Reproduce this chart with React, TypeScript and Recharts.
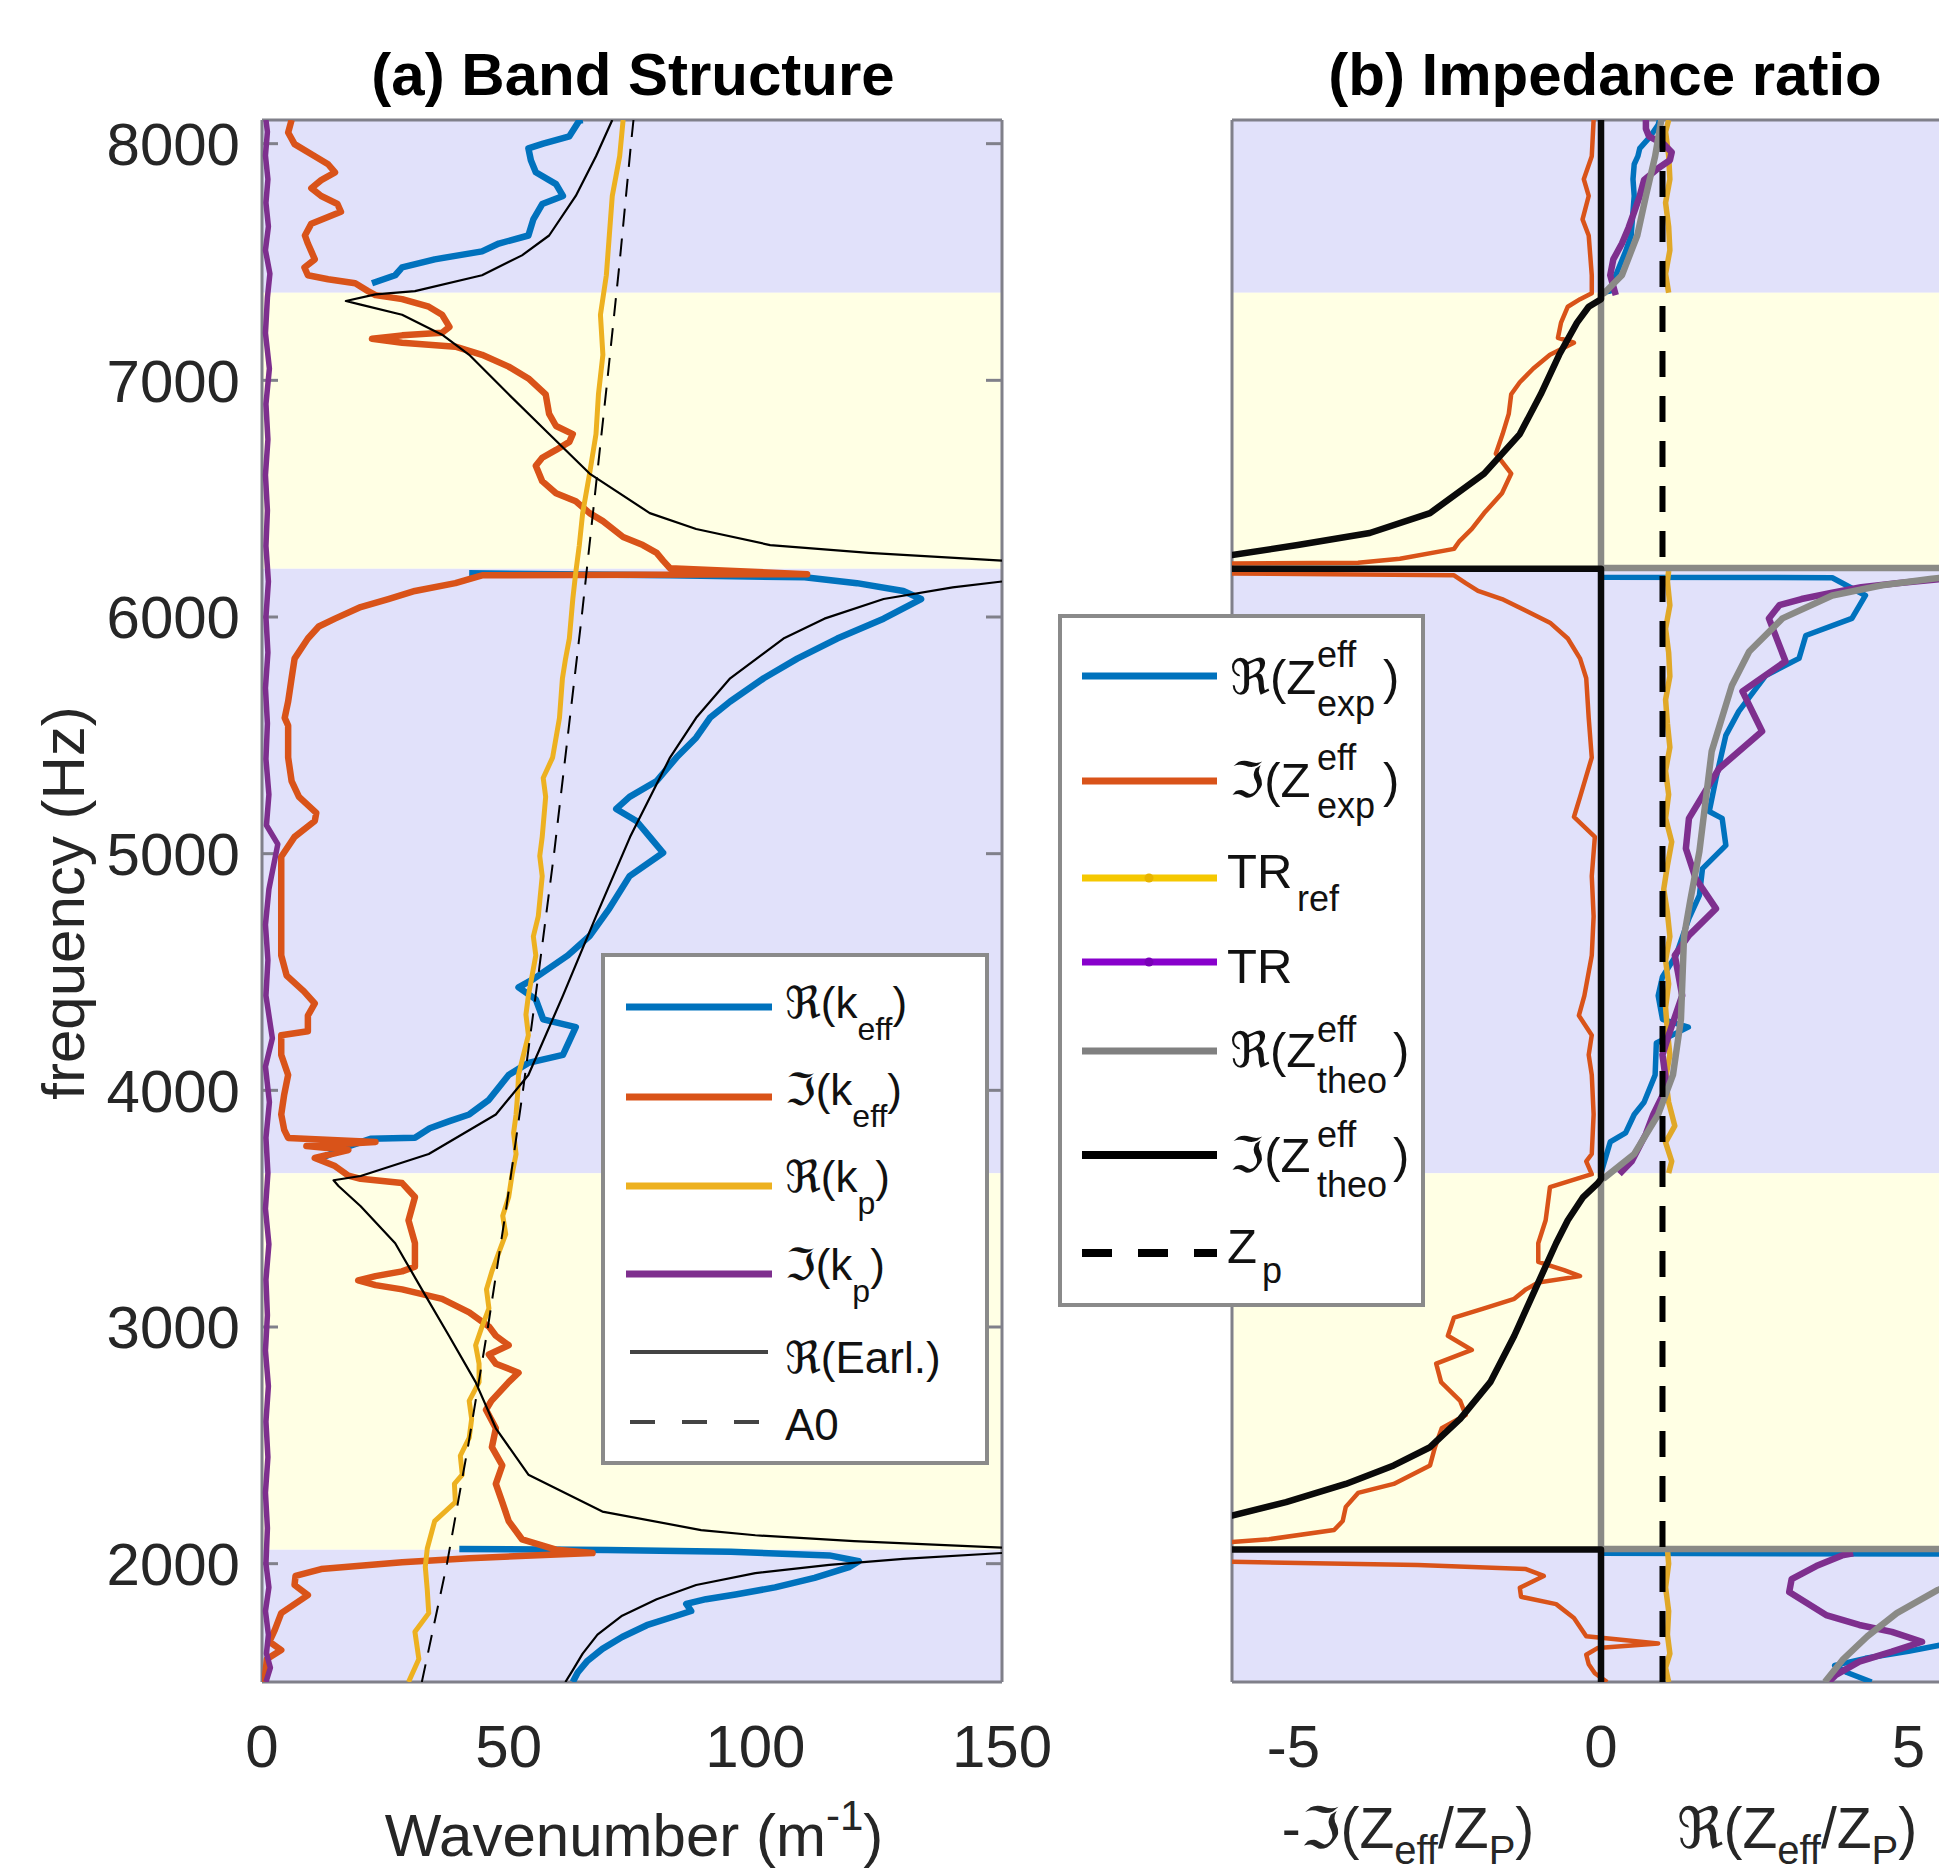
import React from "react";
import { ScatterChart, Scatter, XAxis, YAxis, ReferenceArea } from "recharts";

type P = [number, number]; // [value, frequency Hz]

const FONT = "'Liberation Sans', Arial, 'DejaVu Sans', sans-serif";
const BOX = "#80808a";
const LAVENDER = "#E1E1FA";
const CREAM = "#FFFFE4";

// axes
const freqTicks = [2000, 3000, 4000, 5000, 6000, 7000, 8000];
const kTicks = [0, 50, 100, 150];
const kInnerTicks = [50, 100];
const zTicks = [-5, 0, 5];

// frequency bands (Hz)
const passBands: P[] = [[1500, 2060], [3650, 6205], [7370, 8100]];
const stopBands: P[] = [[2060, 3650], [6205, 7370]];

// ---------- (a) Band Structure ----------
const reKeffLow: P[] = [[63,1500],[64,1540],[66,1590],[69,1640],[73,1690],[78,1740],[84,1780],[87,1800],[86,1830],[90,1850],[96,1870],[104,1900],[112,1940],[119,1985],[121,2010],[115,2035],[95,2050],[70,2058],[40,2062]];
const reKeffMid: P[] = [[12,3714],[15,3740],[17,3760],[22,3795],[31,3800],[34,3840],[38,3870],[42,3898],[46,3960],[50,4065],[54,4116],[61,4150],[63.6,4267],[57,4300],[55.5,4384],[52,4435],[55,4470],[62,4570],[66.4,4652],[70.4,4768],[74.5,4905],[81.3,5004],[78.6,5071],[75.9,5138],[71.8,5189],[74.5,5240],[80,5307],[84,5406],[88,5490],[90.8,5574],[94.9,5643],[101.7,5741],[108.5,5824],[116.6,5909],[126,5993],[133.6,6076],[130,6110],[120.6,6143],[110,6168],[82.6,6176],[42,6185]];
const reKeffHigh: P[] = [[22.3,7410],[27,7444],[28.4,7477],[35,7511],[44.6,7545],[48,7578],[54,7612],[55,7680],[56.8,7745],[61,7779],[59.6,7829],[55.5,7879],[54.5,7930],[54,7980],[57,8000],[62.3,8031],[64.3,8097],[65,8100]];

const imKeff: P[] = [[0.5,1500],[1,1597],[3.9,1635],[1.5,1670],[2.6,1720],[3.9,1791],[6.6,1829],[9.3,1867],[6.6,1910],[6.8,1948],[12,1977],[28.4,2006],[42,2023],[67,2045],[59.6,2059],[52.7,2103],[50,2180],[48.7,2260],[47.4,2337],[48.7,2415],[46.6,2492],[47.4,2572],[45.4,2650],[46.5,2688],[50,2767],[52,2807],[47.4,2845],[46,2884],[50,2923],[47.4,2963],[46,3002],[42,3062],[36.5,3119],[28.4,3159],[23,3177],[19.5,3197],[23,3215],[28.4,3235],[31,3255],[31,3354],[29.7,3451],[31,3549],[28.4,3608],[20,3626],[17.5,3640],[14.8,3680],[10.7,3714],[17.5,3748],[9,3765],[23,3782],[5.3,3799],[4.5,3833],[3.9,3898],[4.5,3982],[5.3,4065],[3.9,4150],[3.9,4233],[9.3,4250],[9.3,4316],[10.7,4367],[8.5,4418],[5,4485],[3.9,4570],[3.9,4735],[3.9,4905],[3.9,4987],[6.6,5071],[10.7,5138],[11,5172],[7.5,5240],[6,5307],[5.3,5406],[5.3,5541],[4.6,5574],[5.3,5643],[6,5741],[6.6,5824],[9.3,5909],[11.5,5960],[14.8,5993],[20,6042],[25.6,6076],[31,6110],[39.2,6143],[44.6,6176],[110.5,6181],[82.7,6206],[81.3,6238],[80,6271],[77.2,6304],[73.2,6338],[69.1,6405],[66.4,6439],[63.6,6489],[59.6,6523],[56.8,6574],[55.5,6639],[56.8,6673],[59.6,6706],[62.3,6740],[63,6773],[59.6,6807],[58.2,6858],[57.5,6941],[54,7008],[50,7058],[44.6,7108],[39.2,7142],[28.4,7159],[22.3,7176],[28.4,7190],[36.5,7201],[38,7226],[36.5,7277],[33.8,7311],[28.4,7343],[23,7360],[21.5,7377],[18.9,7410],[13.4,7427],[9.3,7444],[8.6,7477],[10.7,7511],[10,7545],[9.3,7578],[8.7,7612],[10,7662],[16,7712],[15.3,7745],[12,7779],[10,7812],[12,7846],[14.8,7879],[13.4,7913],[10.7,7947],[6.6,7998],[5.3,8047],[6,8100]];

const reKp: P[] = [[29.7,1500],[31.8,1597],[31,1712],[33.8,1791],[33.5,1889],[33.1,1987],[33.5,2064],[35,2180],[39.2,2260],[39,2337],[40.6,2376],[40.2,2456],[42,2532],[42.5,2612],[42,2688],[44,2767],[44,2845],[43.3,2923],[44.6,3002],[46,3079],[45.5,3159],[46.6,3235],[48,3314],[49.4,3392],[48.8,3470],[50,3549],[50.7,3646],[51.5,3731],[51,3820],[51.5,3898],[51.8,3980],[52,4065],[53,4150],[54,4233],[53.5,4320],[54,4400],[55.5,4570],[55,4650],[56,4735],[56.8,4905],[56.3,4990],[56.8,5071],[57.5,5240],[57,5320],[58.9,5406],[60.3,5574],[60.9,5741],[61.5,5820],[62.3,5909],[63,6076],[63.6,6188],[64.3,6300],[65,6439],[66.4,6606],[67.7,6773],[68.2,6941],[69.1,7108],[68.6,7277],[69.8,7444],[70.4,7612],[71,7779],[72.5,7947],[73.2,8100]];

const imKp: P[] = [[0.8,1500],[1.7,1560],[0.9,1620],[1.3,1700],[0.7,1800],[1.4,1900],[0.8,2000],[1.1,2150],[0.7,2300],[1.2,2450],[0.8,2600],[1.3,2750],[0.7,2900],[1.1,3050],[0.8,3200],[1.4,3350],[0.7,3500],[1.2,3650],[0.8,3800],[1.5,3950],[0.7,4100],[2.1,4220],[0.8,4400],[1.2,4550],[0.7,4700],[1.4,4850],[3.2,5040],[0.9,5120],[1.4,5250],[0.8,5400],[1.1,5550],[0.7,5700],[1.2,5850],[0.8,6000],[1.3,6150],[0.8,6300],[1.1,6450],[0.7,6600],[1.2,6750],[0.8,6900],[1.5,7050],[0.7,7200],[1.1,7350],[1.6,7450],[0.7,7550],[1.3,7650],[0.8,7750],[1.2,7850],[0.7,7950],[1.1,8050],[0.8,8100]];

const earlLow: P[] = [[61.5,1500],[63,1550],[65,1620],[68,1700],[73,1780],[80,1850],[88,1910],[100,1960],[115,1995],[130,2020],[150,2045]];
const earlMid: P[] = [[150,2068],[120,2095],[100,2120],[89,2142],[69,2220],[54,2376],[47.4,2572],[43.3,2767],[37.9,2963],[32.4,3159],[27,3354],[20,3510],[15.5,3596],[14.5,3620],[20,3638],[33.8,3731],[47.4,3898],[54,4065],[61,4400],[67.7,4735],[74.6,5070],[82.7,5406],[88,5574],[94.9,5741],[105.7,5909],[114,5993],[126,6076],[140,6125],[150,6150]];
const earlHigh: P[] = [[150,6238],[123,6271],[103,6304],[88,6372],[78.6,6439],[66.4,6606],[58.2,6773],[50,6941],[42,7108],[36.5,7193],[28.4,7277],[20,7320],[17,7335],[23,7363],[31,7377],[44.6,7444],[52.7,7528],[58.2,7612],[63.6,7779],[67.7,7947],[71,8100]];

const a0: P[] = [[32.4,1500],[37.5,2000],[41.8,2500],[45.8,3000],[49.5,3500],[52.9,4000],[56.1,4500],[59.2,5000],[62,5500],[64.8,6000],[67.4,6500],[70,7000],[72.5,7500],[74.8,8000],[75.3,8100]];

// ---------- (b) Impedance ratio ----------
const reZexp: P[] = [[4.4,1500],[4.0,1540],[3.8,1570],[4.3,1600],[5.0,1630],[5.6,1660],[6.2,1700],[6.6,1760],[6.6,2040],[0,2044],[0,3650],[0.15,3782],[0.4,3820],[0.54,3898],[0.7,3950],[0.88,4065],[0.9,4200],[1.42,4267],[1.0,4300],[0.93,4400],[1.0,4480],[1.22,4570],[1.43,4727],[1.6,4824],[1.65,4937],[2.03,5035],[1.97,5149],[1.76,5178],[1.87,5318],[2.03,5500],[2.24,5601],[2.68,5753],[3.22,5825],[3.33,5922],[4.08,5994],[4.3,6091],[3.76,6166],[0,6168],[0,7370],[0.15,7377],[0.24,7444],[0.4,7545],[0.49,7612],[0.54,7779],[0.52,7850],[0.54,7913],[0.6,7947],[0.63,7980],[0.8,8030],[0.93,8080],[0.95,8100]];

const imZexp: P[] = [[0.1,1500],[-0.1,1537],[-0.2,1575],[-0.24,1615],[-0.05,1644],[0.93,1663],[-0.24,1693],[-0.44,1770],[-0.73,1829],[-1.3,1860],[-1.32,1898],[-0.93,1948],[-1.22,1977],[-2.98,1994],[-6.5,2010],[-6.5,2082],[-5.4,2103],[-4.34,2142],[-4.2,2180],[-4.15,2240],[-3.95,2299],[-3.37,2337],[-2.78,2415],[-2.7,2492],[-2.59,2572],[-2.2,2628],[-2.29,2688],[-2.6,2767],[-2.68,2845],[-2.1,2903],[-2.49,2963],[-2.39,3040],[-1.9,3079],[-1.41,3119],[-1.22,3159],[-1.02,3188],[-0.34,3215],[-0.6,3240],[-1.02,3275],[-1.02,3354],[-0.9,3451],[-0.85,3550],[-0.83,3591],[-0.15,3646],[-0.24,3700],[-0.15,3731],[-0.12,3898],[-0.15,4065],[-0.2,4150],[-0.15,4233],[-0.36,4316],[-0.27,4400],[-0.15,4570],[-0.12,4735],[-0.15,4905],[-0.1,5071],[-0.44,5155],[-0.34,5240],[-0.15,5406],[-0.2,5574],[-0.24,5741],[-0.34,5824],[-0.54,5909],[-0.83,5976],[-1.22,6026],[-1.61,6076],[-2.0,6110],[-2.2,6143],[-2.39,6176],[-6.5,6185],[-6.5,6225],[-3.95,6229],[-3.27,6246],[-2.39,6288],[-2.3,6321],[-2.1,6372],[-1.9,6439],[-1.61,6523],[-1.46,6606],[-1.71,6690],[-1.6,6773],[-1.5,6858],[-1.46,6941],[-1.32,6992],[-1.1,7050],[-0.83,7108],[-0.44,7159],[-0.7,7180],[-0.65,7244],[-0.54,7311],[-0.34,7343],[-0.15,7368],[-0.15,7444],[-0.2,7612],[-0.3,7680],[-0.2,7779],[-0.28,7850],[-0.15,7947],[-0.12,8100]];

const trRefLow: P[] = [[1.1,1500],[1.05,1560],[1.12,1620],[1.08,1700],[1.1,1800],[1.05,1900],[1.1,2000],[1.08,2062]];
const trRefMid: P[] = [[1.1,3650],[1.15,3700],[1.05,3780],[1.2,3850],[1.1,3950],[1.05,4050],[1.12,4150],[1.08,4250],[1.05,4350],[1.1,4450],[1.05,4550],[1.12,4650],[1.08,4750],[1.02,4850],[1.08,4950],[1.15,5050],[1.05,5150],[1.1,5250],[1.05,5350],[1.12,5450],[1.08,5550],[1.05,5650],[1.12,5750],[1.1,5850],[1.05,5950],[1.12,6050],[1.08,6150],[1.1,6195]];
const trRefHigh: P[] = [[1.1,7370],[1.05,7450],[1.12,7550],[1.1,7650],[1.05,7750],[1.12,7850],[1.1,7950],[1.05,8050],[1.1,8100]];

const trLow: P[] = [[3.7,1500],[3.82,1530],[4.2,1586],[4.73,1628],[5.22,1670],[4.73,1712],[4.2,1741],[3.66,1783],[3.06,1880],[3.1,1935],[3.5,1990],[3.92,2035],[4.1,2044]];
const trMid: P[] = [[0.3,3646],[0.5,3700],[0.73,3816],[0.85,3898],[1.07,4014],[1.0,4150],[1.1,4233],[1.32,4400],[1.25,4500],[1.2,4570],[1.43,4655],[1.87,4768],[1.54,4895],[1.38,5022],[1.43,5149],[1.92,5360],[2.62,5517],[2.3,5686],[3.0,5813],[2.9,5880],[2.73,5994],[2.9,6050],[3.26,6076],[3.74,6102],[4.23,6126],[4.81,6143],[5.5,6160],[6.5,6170]];
const trHigh: P[] = [[0.24,7360],[0.15,7444],[0.2,7511],[0.34,7578],[0.45,7646],[0.54,7712],[0.63,7779],[0.7,7846],[0.93,7896],[1.12,7930],[1.15,7964],[1.02,7998],[0.78,8031],[0.73,8063],[0.73,8100]];

const reZtheo: P[] = [[3.64,1500],[3.94,1597],[4.33,1693],[4.81,1791],[5.48,1889],[6.5,1990],[6.5,2062],[0,2062],[0,3625],[0.05,3629],[0.54,3731],[0.93,3898],[1.17,4065],[1.3,4300],[1.35,4650],[1.45,4800],[1.6,5010],[1.8,5433],[2.13,5712],[2.41,5854],[2.95,5994],[3.76,6091],[4.57,6134],[5.38,6162],[6.5,6185],[6.5,6207],[0,6207],[0,7365],[0.05,7368],[0.34,7444],[0.59,7612],[0.73,7779],[0.88,7947],[0.98,8100]];

const imZtheo: P[] = [[0,1500],[0,2060],[-6.5,2060],[-6.5,2190],[-6,2203],[-5.12,2260],[-4.15,2337],[-3.37,2415],[-2.78,2492],[-2.29,2612],[-1.8,2767],[-1.41,2963],[-1.07,3159],[-0.73,3354],[-0.54,3451],[-0.29,3549],[-0.05,3608],[0,3625],[0,6204],[-6.5,6204],[-6.5,6255],[-6,6262],[-4.93,6304],[-3.76,6355],[-2.78,6439],[-1.9,6606],[-1.32,6773],[-0.98,6941],[-0.68,7108],[-0.39,7244],[-0.2,7311],[0,7343],[0,8100]];

const zp: P[] = [[1,1500],[1,8100]];

type S = { data: P[]; color: string; width: number; dash?: string };

const seriesA: S[] = [
  { data: reKeffLow, color: "#0072BD", width: 6.5 },
  { data: reKeffMid, color: "#0072BD", width: 6.5 },
  { data: reKeffHigh, color: "#0072BD", width: 6.5 },
  { data: imKeff, color: "#D95319", width: 6.5 },
  { data: reKp, color: "#EDB120", width: 5 },
  { data: imKp, color: "#7E2F8E", width: 5.5 },
  { data: earlLow, color: "#000000", width: 2.2 },
  { data: earlMid, color: "#000000", width: 2.2 },
  { data: earlHigh, color: "#000000", width: 2.2 },
  { data: a0, color: "#000000", width: 2, dash: "18 12" },
];

const seriesB: S[] = [
  { data: reZexp, color: "#0072BD", width: 5.5 },
  { data: imZexp, color: "#D95319", width: 4.5 },
  { data: trRefLow, color: "#E0A828", width: 5.5 },
  { data: trRefMid, color: "#E0A828", width: 5.5 },
  { data: trRefHigh, color: "#E0A828", width: 5.5 },
  { data: trLow, color: "#7E2F8E", width: 6.5 },
  { data: trMid, color: "#7E2F8E", width: 6.5 },
  { data: trHigh, color: "#7E2F8E", width: 6.5 },
  { data: reZtheo, color: "#8a8a86", width: 6.5 },
  { data: imZtheo, color: "#0a0a0a", width: 6.5 },
  { data: zp, color: "#000000", width: 6, dash: "26 19" },
];

const pts = (a: P[]) => a.map(([x, f]) => ({ x, f }));
const noDot = () => null;
const noLabel = () => <g />;

const tickText = { fontSize: 60, fill: "#262626", fontFamily: FONT };
const boxLine = { stroke: BOX, strokeWidth: 3 };

function renderSeries(s: S, i: number) {
  return (
    <Scatter
      key={i}
      data={pts(s.data)}
      shape={noDot}
      legendType="none"
      isAnimationActive={false}
      line={{
        stroke: s.color,
        strokeWidth: s.width,
        strokeDasharray: s.dash,
        strokeLinejoin: "round",
        fill: "none",
      }}
    />
  );
}

function renderBands() {
  return [
    ...passBands.map(([a, b], i) => (
      <ReferenceArea key={"p" + i} y1={a} y2={b} fill={LAVENDER} fillOpacity={1} stroke="none" ifOverflow="hidden" />
    )),
    ...stopBands.map(([a, b], i) => (
      <ReferenceArea key={"s" + i} y1={a} y2={b} fill={CREAM} fillOpacity={1} stroke="none" ifOverflow="hidden" />
    )),
  ];
}

const LegendA = () => (
  <g fontFamily={FONT} fill="#111">
    <rect x={603} y={955} width={384} height={508} fill="#fff" stroke="#8a8a8a" strokeWidth={4} />
    <line x1={626} x2={772} y1={1007} y2={1007} stroke="#0072BD" strokeWidth={7} />
    <line x1={626} x2={772} y1={1097} y2={1097} stroke="#D95319" strokeWidth={7} />
    <line x1={626} x2={772} y1={1186} y2={1186} stroke="#EDB120" strokeWidth={7} />
    <line x1={626} x2={772} y1={1274} y2={1274} stroke="#7E2F8E" strokeWidth={7} />
    <line x1={630} x2={768} y1={1352} y2={1352} stroke="#444" strokeWidth={4} />
    <line x1={630} x2={768} y1={1422} y2={1422} stroke="#444" strokeWidth={4} strokeDasharray="25 27" />
    <g fontSize={44}>
      <text x={785} y={1018}>ℜ(k<tspan fontSize={32} dy={22}>eff</tspan><tspan dy={-22}>)</tspan></text>
      <text x={785} y={1105}>ℑ(k<tspan fontSize={32} dy={22}>eff</tspan><tspan dy={-22}>)</tspan></text>
      <text x={785} y={1192}>ℜ(k<tspan fontSize={32} dy={22}>p</tspan><tspan dy={-22}>)</tspan></text>
      <text x={785} y={1280}>ℑ(k<tspan fontSize={32} dy={22}>p</tspan><tspan dy={-22}>)</tspan></text>
      <text x={785} y={1373}>ℜ(Earl.)</text>
      <text x={785} y={1440}>A0</text>
    </g>
  </g>
);

const LegendB = () => (
  <g fontFamily={FONT} fill="#111">
    <rect x={1060} y={616} width={363} height={689} fill="#fff" stroke="#8a8a8a" strokeWidth={4} />
    <line x1={1082} x2={1217} y1={676} y2={676} stroke="#0072BD" strokeWidth={7} />
    <line x1={1082} x2={1217} y1={781} y2={781} stroke="#D95319" strokeWidth={7} />
    <line x1={1082} x2={1217} y1={878} y2={878} stroke="#F5C800" strokeWidth={7} />
    <circle cx={1149} cy={878} r={4.5} fill="#E8B400" />
    <line x1={1082} x2={1217} y1={962} y2={962} stroke="#8800CC" strokeWidth={7} />
    <circle cx={1149} cy={962} r={4.5} fill="#7A00B8" />
    <line x1={1082} x2={1217} y1={1051} y2={1051} stroke="#808080" strokeWidth={7} />
    <line x1={1082} x2={1217} y1={1155} y2={1155} stroke="#000" strokeWidth={8} />
    <line x1={1082} x2={1217} y1={1253} y2={1253} stroke="#000" strokeWidth={8} strokeDasharray="30 26" />
    <text x={1230} y={694} fontSize={49}>ℜ(Z</text>
    <text x={1317} y={667} fontSize={36}>eff</text>
    <text x={1317} y={716} fontSize={36}>exp</text>
    <text x={1383} y={694} fontSize={49}>)</text>
    <text x={1230} y={797} fontSize={49}>ℑ(Z</text>
    <text x={1317} y={770} fontSize={36}>eff</text>
    <text x={1317} y={818} fontSize={36}>exp</text>
    <text x={1383} y={797} fontSize={49}>)</text>
    <text x={1227} y={888} fontSize={49}>TR</text>
    <text x={1297} y={911} fontSize={36}>ref</text>
    <text x={1227} y={983} fontSize={49}>TR</text>
    <text x={1230} y={1067} fontSize={49}>ℜ(Z</text>
    <text x={1317} y={1042} fontSize={36}>eff</text>
    <text x={1317} y={1093} fontSize={36}>theo</text>
    <text x={1393} y={1067} fontSize={49}>)</text>
    <text x={1230} y={1172} fontSize={49}>ℑ(Z</text>
    <text x={1317} y={1147} fontSize={36}>eff</text>
    <text x={1317} y={1197} fontSize={36}>theo</text>
    <text x={1393} y={1172} fontSize={49}>)</text>
    <text x={1227} y={1263} fontSize={49}>Z</text>
    <text x={1262} y={1283} fontSize={36}>p</text>
  </g>
);

export default function App() {
  return (
    <div style={{ position: "absolute", left: 0, top: 0, width: 1939, height: 1873, overflow: "hidden", background: "#fff", fontFamily: FONT }}>
      {/* (a) Band Structure */}
      <div style={{ position: "absolute", left: 0, top: 0 }}>
        <ScatterChart width={1060} height={1873} margin={{ top: 120, right: 58, bottom: 190, left: 261 }}>
          {renderBands()}
          <XAxis type="number" dataKey="x" domain={[0, 150]} ticks={kTicks} allowDataOverflow height={1}
            tickLine={false} tickSize={0} tickMargin={42} tick={tickText} axisLine={boxLine} />
          <XAxis xAxisId="top" orientation="top" type="number" domain={[0, 150]} ticks={kInnerTicks} allowDataOverflow
            height={1} mirror tick={noLabel} tickSize={16} tickLine={boxLine} axisLine={boxLine} />
          <XAxis xAxisId="bot" orientation="bottom" type="number" domain={[0, 150]} ticks={kInnerTicks} allowDataOverflow
            height={1} mirror tick={noLabel} tickSize={16} tickLine={boxLine} axisLine={false} />
          <YAxis type="number" dataKey="f" domain={[1500, 8100]} ticks={freqTicks} allowDataOverflow width={1}
            tickLine={false} tickSize={0} tickMargin={22} tick={tickText} axisLine={boxLine} />
          <YAxis yAxisId="l" type="number" domain={[1500, 8100]} ticks={freqTicks} allowDataOverflow width={1}
            mirror tick={noLabel} tickSize={16} tickLine={boxLine} axisLine={false} />
          <YAxis yAxisId="r" orientation="right" type="number" domain={[1500, 8100]} ticks={freqTicks} allowDataOverflow width={1}
            mirror tick={noLabel} tickSize={16} tickLine={boxLine} axisLine={boxLine} />
          {seriesA.map(renderSeries)}
        </ScatterChart>
      </div>

      {/* (b) Impedance ratio */}
      <div style={{ position: "absolute", left: 1060, top: 0 }}>
        <ScatterChart width={918} height={1873} margin={{ top: 120, right: 8, bottom: 190, left: 171 }}>
          {renderBands()}
          <XAxis type="number" dataKey="x" domain={[-6, 6]} ticks={zTicks} allowDataOverflow height={1}
            tickLine={false} tickSize={0} tickMargin={42} tick={tickText} axisLine={boxLine} />
          <XAxis xAxisId="top" orientation="top" type="number" domain={[-6, 6]} ticks={zTicks} allowDataOverflow
            height={1} mirror tick={noLabel} tickSize={16} tickLine={boxLine} axisLine={boxLine} />
          <XAxis xAxisId="bot" orientation="bottom" type="number" domain={[-6, 6]} ticks={zTicks} allowDataOverflow
            height={1} mirror tick={noLabel} tickSize={16} tickLine={boxLine} axisLine={false} />
          <YAxis type="number" dataKey="f" domain={[1500, 8100]} ticks={freqTicks} allowDataOverflow width={1}
            tickLine={false} tick={false} axisLine={boxLine} />
          <YAxis yAxisId="r" orientation="right" type="number" domain={[1500, 8100]} ticks={freqTicks} allowDataOverflow width={1}
            mirror tick={noLabel} tickSize={16} tickLine={boxLine} axisLine={boxLine} />
          {seriesB.map(renderSeries)}
        </ScatterChart>
      </div>

      {/* titles, axis labels and legends */}
      <svg width={1939} height={1873} style={{ position: "absolute", left: 0, top: 0, pointerEvents: "none" }}>
        <g fontFamily={FONT} fill="#000" fontWeight="bold" fontSize={60} textAnchor="middle">
          <text x={633} y={95}>(a) Band Structure</text>
          <text x={1605} y={95}>(b) Impedance ratio</text>
        </g>
        <g fontFamily={FONT} fill="#262626" fontSize={60}>
          <text x={84} y={903} textAnchor="middle" transform="rotate(-90 84 903)">frequency (Hz)</text>
          <text x={634} y={1856} textAnchor="middle">
            Wavenumber (m<tspan fontSize={42} dy={-26}>-1</tspan><tspan dy={26}>)</tspan>
          </text>
          <text x={1408} y={1848} fontSize={57} textAnchor="middle">
            -ℑ(Z<tspan fontSize={40} dy={16}>eff</tspan><tspan dy={-16}>/Z</tspan><tspan fontSize={40} dy={16}>P</tspan><tspan dy={-16}>)</tspan>
          </text>
          <text x={1677} y={1848} fontSize={57}>
            ℜ(Z<tspan fontSize={40} dy={16}>eff</tspan><tspan dy={-16}>/Z</tspan><tspan fontSize={40} dy={16}>P</tspan><tspan dy={-16}>)</tspan>
          </text>
        </g>
        <LegendA />
        <LegendB />
      </svg>
    </div>
  );
}
